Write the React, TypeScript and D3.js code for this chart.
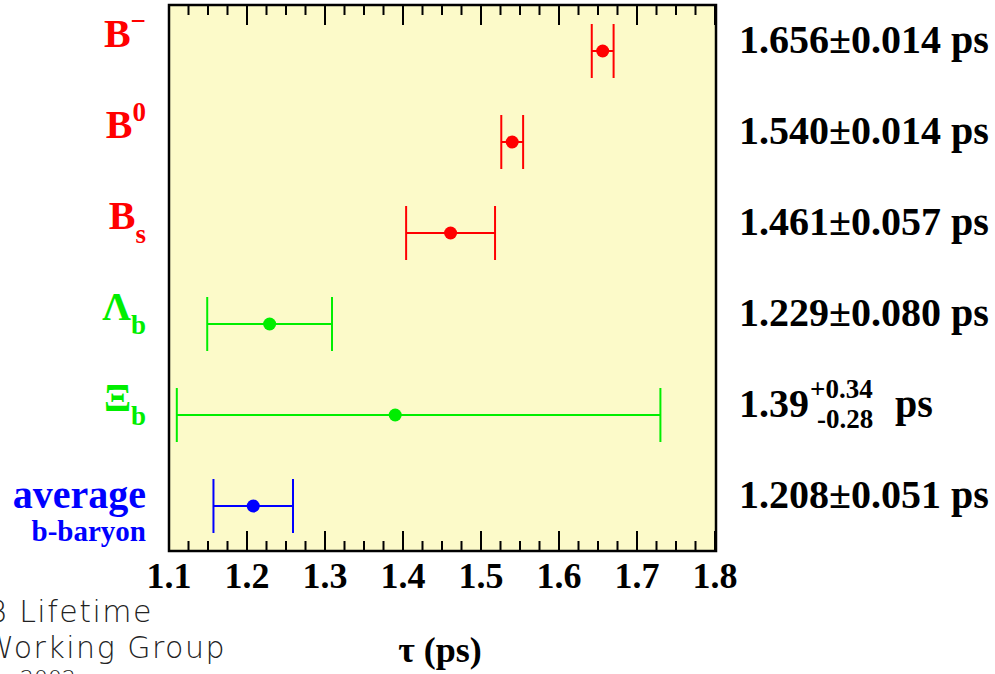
import React, { useEffect, useRef } from "react";
import * as d3 from "d3";

// b-hadron lifetimes (ps)
const particles = ["Bminus", "B0", "Bs", "Lambdab", "Xib", "average"];
const lifetimes = [1.656, 1.54, 1.461, 1.229, 1.39, 1.208];
const errUp = [0.014, 0.014, 0.057, 0.08, 0.34, 0.051];
const errDown = [0.014, 0.014, 0.057, 0.08, 0.28, 0.051];
const valueLabels = ["1.656±0.014 ps", "1.540±0.014 ps", "1.461±0.057 ps", "1.229±0.080 ps", "", "1.208±0.051 ps"];
const tickLabels = ["1.1", "1.2", "1.3", "1.4", "1.5", "1.6", "1.7", "1.8"];
const pointColors = ["#ff0000", "#ff0000", "#ff0000", "#00ee00", "#00ee00", "#0000ff"];

const SERIF = "'Liberation Serif', 'Times New Roman', serif";

const App = () => {
  const chartRef = useRef<SVGSVGElement>(null);

  useEffect(() => {
    document.body.style.margin = "0";
    const svg = d3.select(chartRef.current);
    svg.selectAll("*").remove();

    const width = 995;
    const height = 674;
    const margin = { top: 5, right: 279, bottom: 123, left: 169 };
    const x0 = margin.left;
    const x1 = width - margin.right;
    const y0 = margin.top;
    const y1 = height - margin.bottom;

    const x = d3.scaleLinear().domain([1.1, 1.8]).range([x0, x1 - 1]);
    const y = d3.scalePoint<string>().domain(particles).range([51, 506]);

    // frame background
    svg
      .append("rect")
      .attr("x", x0)
      .attr("y", y0)
      .attr("width", x1 - x0)
      .attr("height", y1 - y0)
      .attr("fill", "#fcfac9");

    // ticks (inward, top and bottom)
    const minor = d3.range(0, 29).map((i) => 1.1 + i * 0.025);
    const tickG = svg.append("g").attr("stroke", "#000").attr("stroke-width", 2);
    minor.forEach((v, i) => {
      const len = i % 4 === 0 ? 20 : 10;
      const xp = x(v);
      tickG.append("line").attr("x1", xp).attr("x2", xp).attr("y1", y1).attr("y2", y1 - len);
      tickG.append("line").attr("x1", xp).attr("x2", xp).attr("y1", y0).attr("y2", y0 + len);
    });

    // frame
    svg
      .append("rect")
      .attr("x", x0)
      .attr("y", y0)
      .attr("width", x1 - x0)
      .attr("height", y1 - y0)
      .attr("fill", "none")
      .attr("stroke", "#000")
      .attr("stroke-width", 2.5);

    // tick labels
    svg
      .append("g")
      .selectAll("text")
      .data(tickLabels)
      .enter()
      .append("text")
      .attr("x", (d) => x(+d))
      .attr("y", 588)
      .attr("text-anchor", "middle")
      .style("font", `bold 36px ${SERIF}`)
      .text((d) => d);

    // axis title
    svg
      .append("text")
      .attr("x", 440)
      .attr("y", 662)
      .attr("text-anchor", "middle")
      .style("font", `bold 36px ${SERIF}`)
      .text("τ (ps)");

    // error bars + points
    const capH = 27;
    particles.forEach((p, i) => {
      const g = svg.append("g").attr("stroke", pointColors[i]).attr("stroke-width", 2);
      const yc = y(p) as number;
      const lo = x(lifetimes[i] - errDown[i]);
      const hi = x(lifetimes[i] + errUp[i]);
      g.append("line").attr("x1", lo).attr("x2", hi).attr("y1", yc).attr("y2", yc);
      g.append("line").attr("x1", lo).attr("x2", lo).attr("y1", yc - capH).attr("y2", yc + capH);
      g.append("line").attr("x1", hi).attr("x2", hi).attr("y1", yc - capH).attr("y2", yc + capH);
      svg
        .append("circle")
        .attr("cx", x(lifetimes[i]))
        .attr("cy", yc)
        .attr("r", 6.5)
        .attr("fill", pointColors[i]);
    });

    // value labels on the right
    const vals = svg.append("g").style("font", `bold 40px ${SERIF}`);
    particles.forEach((p, i) => {
      if (!valueLabels[i]) return;
      vals
        .append("text")
        .attr("x", 739)
        .attr("y", (y(p) as number) + 2)
        .text(valueLabels[i]);
    });
    const yX = y("Xib") as number;
    const main = vals.append("text").attr("x", 739).attr("y", yX + 2).text("1.39");
    const mw = (main.node() as SVGTextElement).getComputedTextLength();
    vals
      .append("text")
      .attr("x", 739 + mw + 1)
      .attr("y", yX - 17)
      .style("font-size", "27px")
      .text("+0.34");
    vals
      .append("text")
      .attr("x", 739 + mw + 8)
      .attr("y", yX + 13)
      .style("font-size", "27px")
      .text("-0.28");
    vals.append("text").attr("x", 895).attr("y", yX + 2).text("ps");

    // particle labels on the left
    const lab = svg.append("g").style("font", `bold 40px ${SERIF}`);
    const addLabel = (p: string, mainTxt: string, sup: string, sub: string, color: string) => {
      const yc = y(p) as number;
      const t = lab.append("text").attr("y", yc - 4).attr("fill", color).text(mainTxt);
      const w = (t.node() as SVGTextElement).getComputedTextLength();
      const extra = lab
        .append("text")
        .attr("y", sup ? yc - 21 : yc + 10)
        .attr("fill", color)
        .style("font-size", "27px")
        .text(sup || sub);
      const ew = (extra.node() as SVGTextElement).getComputedTextLength();
      const right = 146;
      t.attr("x", right - ew - w);
      extra.attr("x", right - ew);
    };
    addLabel("Bminus", "B", "−", "", pointColors[0]);
    addLabel("B0", "B", "0", "", pointColors[1]);
    addLabel("Bs", "B", "", "s", pointColors[2]);
    addLabel("Lambdab", "Λ", "", "b", pointColors[3]);
    addLabel("Xib", "Ξ", "", "b", pointColors[4]);

    const yA = y("average") as number;
    svg
      .append("text")
      .attr("x", 146)
      .attr("y", yA + 2)
      .attr("text-anchor", "end")
      .attr("fill", "#0000ff")
      .style("font", `bold 40px ${SERIF}`)
      .text("average");
    svg
      .append("text")
      .attr("x", 146)
      .attr("y", yA + 35)
      .attr("text-anchor", "end")
      .attr("fill", "#0000ff")
      .style("font", `bold 29px ${SERIF}`)
      .text("b-baryon");

    // working group stamp, bottom left (partly outside the picture, as in the original)
    const stamp = svg
      .append("g")
      .attr("fill", "#222")
      .style("font-family", "'DejaVu Sans', sans-serif")
      .style("font-weight", "200")
      .attr("text-anchor", "end");
    stamp.append("text").attr("x", 153).attr("y", 622).style("font-size", "30px").style("letter-spacing", "1.5px").text("B Lifetime");
    stamp.append("text").attr("x", 226).attr("y", 658).style("font-size", "30px").style("letter-spacing", "1.5px").text("Working Group");
    stamp.append("text").attr("x", 76).attr("y", 686).style("font-size", "22px").text("July 2002");
  }, []);

  return <svg ref={chartRef} width={995} height={674} style={{ display: "block" }}></svg>;
};

export default App;
